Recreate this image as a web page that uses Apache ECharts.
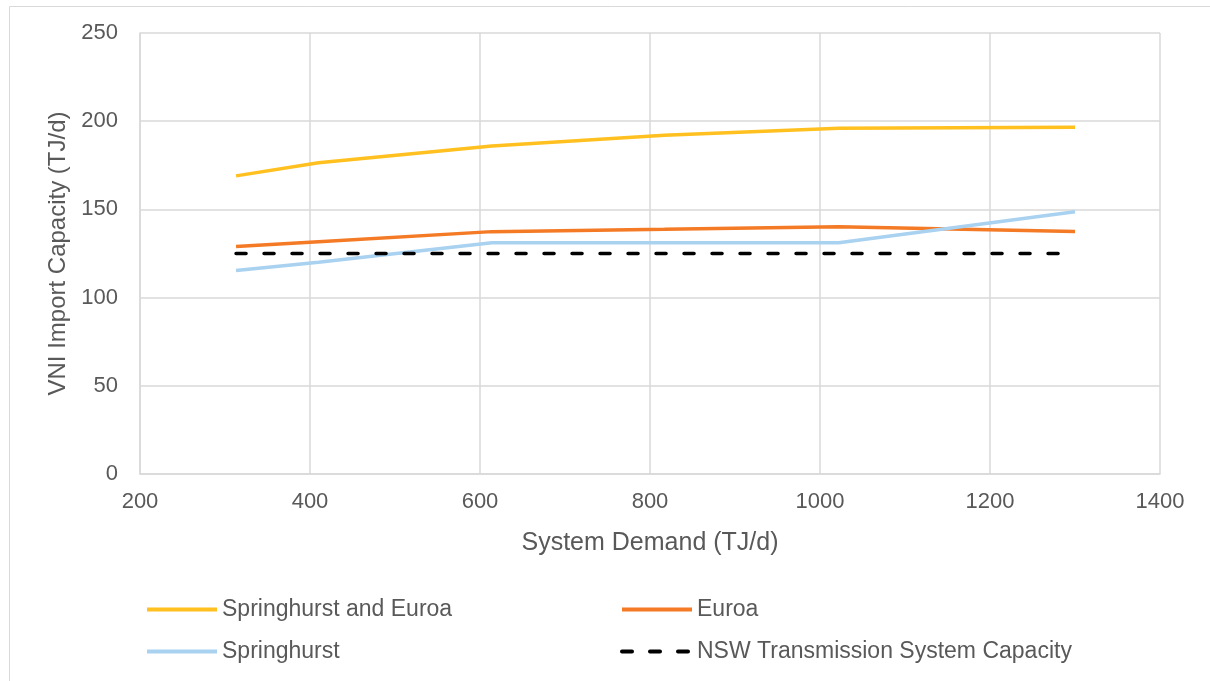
<!DOCTYPE html>
<html>
<head>
<meta charset="utf-8">
<script src="https://cdn.jsdelivr.net/npm/echarts@6/dist/echarts.min.js"></script>
<style>
html,body{margin:0;padding:0;background:#fff;}
#chart{width:1210px;height:681px;}
</style>
</head>
<body>
<div id="chart"></div>
<script>
var demand = [313, 410, 614, 817, 1022, 1300];
var springhurstEuroa = [169, 176.5, 186, 192, 196, 196.5];
var euroa = [129, 131.7, 137.4, 138.7, 140.2, 137.5];
var springhurst = [115.3, 120, 131.1, 131.1, 131.1, 148.7];
var nswCapacity = [125, 125, 125, 125, 125, 125];
var seriesNames = ['Springhurst and Euroa', 'Euroa', 'Springhurst', 'NSW Transmission System Capacity'];

function pairs(ys){ return demand.map(function(x,i){ return [x, ys[i]]; }); }

var chart = echarts.init(document.getElementById('chart'));
var txt = '#595959';
var font = 'Liberation Sans, Arial, sans-serif';
var legendCommon = {
  orient: 'vertical', top: 593, itemWidth: 70, itemHeight: 14, itemGap: 19,
  itemStyle: {opacity: 0},
  lineStyle: {width: 4},
  textStyle: {fontSize: 23, color: txt, fontFamily: font}
};
chart.setOption({
  animation: false,
  textStyle: {fontFamily: font},
  graphic: [{
    type: 'rect', left: 7, top: 4,
    shape: {width: 1220, height: 700},
    style: {fill: 'none', stroke: '#D9D9D9', lineWidth: 1}
  }],
  grid: {left: 140, right: 50, top: 33, bottom: 207},
  xAxis: {
    type: 'value', min: 200, max: 1400, interval: 200,
    name: 'System Demand (TJ/d)', nameLocation: 'middle', nameGap: 57,
    nameTextStyle: {fontSize: 25, color: txt, fontFamily: font},
    axisLabel: {fontSize: 22, color: txt, margin: 17, fontFamily: font,
      formatter: function(v){ return String(v); }},
    axisLine: {show: true, lineStyle: {color: '#D9D9D9', width: 1.5}},
    axisTick: {show: false},
    splitLine: {show: true, lineStyle: {color: '#D9D9D9', width: 1.5}}
  },
  yAxis: {
    type: 'value', min: 0, max: 250, interval: 50,
    name: 'VNI Import Capacity (TJ/d)', nameLocation: 'middle', nameGap: 61,
    nameTextStyle: {fontSize: 24, color: txt, fontFamily: font},
    axisLabel: {fontSize: 22, color: txt, margin: 22, fontFamily: font},
    axisLine: {show: true, lineStyle: {color: '#D9D9D9', width: 1.5}},
    axisTick: {show: false},
    splitLine: {show: true, lineStyle: {color: '#D9D9D9', width: 1.5}}
  },
  legend: [
    Object.assign({left: 140, data: [seriesNames[0], seriesNames[2]]}, legendCommon),
    Object.assign({left: 615, data: [seriesNames[1], seriesNames[3]]}, legendCommon)
  ],
  series: [
    {name: seriesNames[0], type: 'line', data: pairs(springhurstEuroa), symbol: 'none',
     lineStyle: {color: '#FFC020', width: 3.5}, itemStyle: {color: '#FFC020'}},
    {name: seriesNames[1], type: 'line', data: pairs(euroa), symbol: 'none',
     lineStyle: {color: '#F47A25', width: 3.5}, itemStyle: {color: '#F47A25'}},
    {name: seriesNames[2], type: 'line', data: pairs(springhurst), symbol: 'none',
     lineStyle: {color: '#A9D1F0', width: 3.5}, itemStyle: {color: '#A9D1F0'}},
    {name: seriesNames[3], type: 'line', data: pairs(nswCapacity), symbol: 'none',
     lineStyle: {color: '#000000', width: 3.5, type: [10, 18], cap: 'round'}, itemStyle: {color: '#000000'}}
  ]
});
</script>
</body>
</html>
